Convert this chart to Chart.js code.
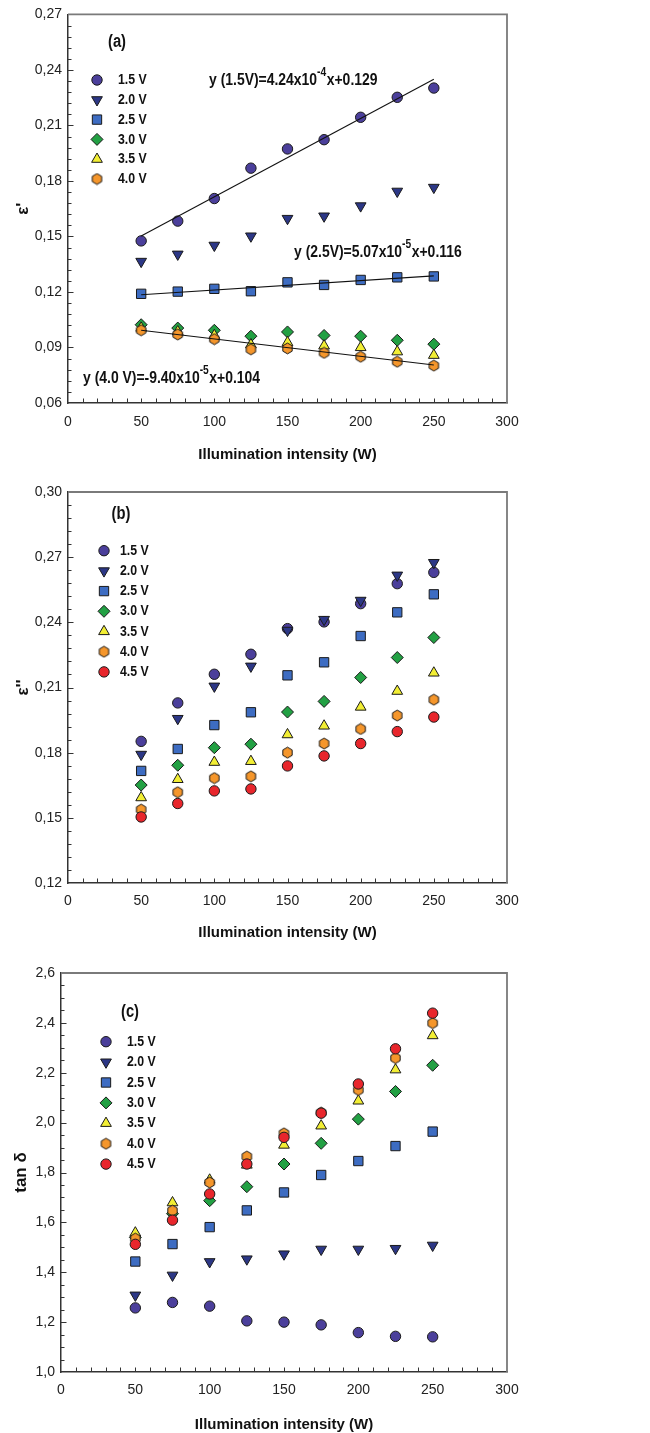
<!DOCTYPE html>
<html><head><meta charset="utf-8">
<script src="https://cdn.jsdelivr.net/npm/chart.js@4.4.1/dist/chart.umd.min.js"></script>
<style>
html,body{margin:0;padding:0;background:#fff;width:650px;height:1433px;overflow:hidden}
canvas{position:absolute;left:0;display:block}
</style></head><body>
<canvas id="ca" width="650" height="470" style="top:0px"></canvas>
<canvas id="cb" width="650" height="480" style="top:470px"></canvas>
<canvas id="cc" width="650" height="483" style="top:950px"></canvas>
<script>
// ---------- data ----------
const intensity = [50, 75, 100, 125, 150, 175, 200, 225, 250];
const xTicks = [0, 50, 100, 150, 200, 250, 300];

// (a) epsilon'
const epsR_15 = [0.1476, 0.1583, 0.1705, 0.1869, 0.1973, 0.2023, 0.2144, 0.2252, 0.2302];
const epsR_20 = [0.1365, 0.1404, 0.1452, 0.1502, 0.1597, 0.1610, 0.1665, 0.1744, 0.1765];
const epsR_25 = [0.1190, 0.1202, 0.1217, 0.1204, 0.1252, 0.1238, 0.1265, 0.1279, 0.1284];
const epsR_30 = [0.1023, 0.1005, 0.0993, 0.0961, 0.0984, 0.0965, 0.0961, 0.0939, 0.0918];
const epsR_35 = [0.1005, 0.0985, 0.0965, 0.0915, 0.0927, 0.0909, 0.0900, 0.0877, 0.0858];
const epsR_40 = [0.0993, 0.0970, 0.0945, 0.0890, 0.0895, 0.0871, 0.0850, 0.0823, 0.0802];
const yTicksA = [0.06, 0.09, 0.12, 0.15, 0.18, 0.21, 0.24, 0.27];
// linear fits printed on panel (a): [slope, intercept]
const fit_15 = [4.24e-4, 0.129];
const fit_25 = [5.07e-5, 0.116];
const fit_40 = [-9.40e-5, 0.104];
const fitRange = [50, 250];

// (b) epsilon''
const epsI_15 = [0.1852, 0.2029, 0.2161, 0.2253, 0.2371, 0.2402, 0.2486, 0.2578, 0.2630];
const epsI_20 = [0.1792, 0.1957, 0.2106, 0.2198, 0.2363, 0.2413, 0.2501, 0.2617, 0.2675];
const epsI_25 = [0.1716, 0.1817, 0.1927, 0.1986, 0.2156, 0.2216, 0.2337, 0.2446, 0.2529];
const epsI_30 = [0.1651, 0.1742, 0.1823, 0.1839, 0.1987, 0.2036, 0.2146, 0.2238, 0.2330];
const epsI_35 = [0.1593, 0.1677, 0.1756, 0.1760, 0.1883, 0.1923, 0.2010, 0.2083, 0.2167];
const epsI_40 = [0.1538, 0.1618, 0.1683, 0.1691, 0.1800, 0.1842, 0.1909, 0.1971, 0.2044];
const epsI_45 = [0.1504, 0.1566, 0.1624, 0.1633, 0.1739, 0.1785, 0.1842, 0.1897, 0.1964];
const yTicksB = [0.12, 0.15, 0.18, 0.21, 0.24, 0.27, 0.30];

// (c) tan delta
const tan_15 = [1.257, 1.279, 1.264, 1.205, 1.200, 1.189, 1.158, 1.143, 1.141];
const tan_20 = [1.308, 1.388, 1.442, 1.453, 1.473, 1.492, 1.492, 1.495, 1.508];
const tan_25 = [1.443, 1.513, 1.581, 1.648, 1.720, 1.790, 1.846, 1.906, 1.964];
const tan_30 = [1.540, 1.635, 1.687, 1.743, 1.834, 1.917, 2.014, 2.125, 2.230];
const tan_35 = [1.558, 1.679, 1.770, 1.830, 1.910, 1.987, 2.087, 2.212, 2.349];
const tan_40 = [1.535, 1.647, 1.760, 1.864, 1.957, 2.040, 2.131, 2.259, 2.399];
const tan_45 = [1.512, 1.609, 1.714, 1.834, 1.941, 2.038, 2.155, 2.296, 2.439];
const yTicksC = [1.0, 1.2, 1.4, 1.6, 1.8, 2.0, 2.2, 2.4, 2.6];

// ---------- fonts ----------
function hasFont(name) {
  const c = document.createElement('canvas').getContext('2d');
  const t = 'Illumination intensity 0123456789';
  let diff = false;
  for (const fb of ['monospace', 'serif']) {
    c.font = '20px ' + fb; const a = c.measureText(t).width;
    c.font = '20px "' + name + '", ' + fb; const b = c.measureText(t).width;
    if (a !== b) diff = true;
  }
  return diff;
}
const NARROW = hasFont('Liberation Sans Narrow');
const FF = NARROW ? '"Liberation Sans Narrow", "Liberation Sans", Arial, sans-serif' : '"Liberation Sans", Arial, sans-serif';
const SX = NARROW ? 1 : 0.82;          // horizontal squeeze for hand-drawn text
const K = NARROW ? 1 : 0.86;           // size factor for library-drawn text
const fs = n => Math.round(n * K * 10) / 10;
Chart.defaults.font.family = FF;

// draws condensed text, returns its width
function nText(ctx, text, x, y, size, align) {
  ctx.font = 'bold ' + size + 'px ' + FF;
  const w = ctx.measureText(text).width * SX;
  let x0 = x;
  if (align === 'center') x0 = x - w / 2;
  ctx.save();
  ctx.translate(x0, y); ctx.scale(SX, 1);
  ctx.textAlign = 'left'; ctx.textBaseline = 'middle';
  ctx.fillText(text, 0, 0);
  ctx.restore();
  return w;
}

// ---------- marker styles ----------
function hexagon(fill) {
  const c = document.createElement('canvas');
  c.width = 13; c.height = 13;
  const g = c.getContext('2d');
  g.beginPath();
  for (let k = 0; k < 6; k++) {
    const a = Math.PI / 2 + k * Math.PI / 3;
    const px = 6.5 + 5.4 * Math.cos(a), py = 6.5 + 5.4 * Math.sin(a);
    k ? g.lineTo(px, py) : g.moveTo(px, py);
  }
  g.closePath();
  g.fillStyle = fill; g.fill();
  g.strokeStyle = '#1a1a1a'; g.lineWidth = 1; g.stroke();
  return c;
}
const STY = {
  '1.5 V': {color: '#4b3f9b', style: 'circle', r: 5.2, rot: 0},
  '2.0 V': {color: '#2c3786', style: 'triangle', r: 6.2, rot: 180},
  '2.5 V': {color: '#3d6cc2', style: 'rect', r: 6.6, rot: 0},
  '3.0 V': {color: '#22a043', style: 'rectRot', r: 6.0, rot: 0},
  '3.5 V': {color: '#f2ee34', style: 'triangle', r: 6.2, rot: 0},
  '4.0 V': {color: '#f5962b', style: 'hex', r: 5.5, rot: 0},
  '4.5 V': {color: '#e8262c', style: 'circle', r: 5.2, rot: 0}
};
const HEX = hexagon(STY['4.0 V'].color);
function pstyle(name) { return STY[name].style === 'hex' ? HEX : STY[name].style; }

function markerDS(name, vals, i) {
  const s = STY[name];
  return {
    type: 'scatter', label: name,
    data: intensity.map((x, k) => ({x, y: vals[k]})),
    pointStyle: pstyle(name), pointRadius: s.r, pointRotation: s.rot,
    backgroundColor: s.color, borderColor: '#1a1a1a', borderWidth: 1,
    order: 100 - i
  };
}
function fitDS(f) {
  return {
    type: 'line', label: 'fit',
    data: fitRange.map(x => ({x, y: f[0] * x + f[1]})),
    borderColor: '#111', borderWidth: 1.1, pointRadius: 0, fill: false, order: 0
  };
}

function drawMarker(ctx, name, x, y) {
  const s = STY[name];
  ctx.save();
  ctx.fillStyle = s.color; ctx.strokeStyle = '#1a1a1a'; ctx.lineWidth = 1;
  if (s.style === 'hex') { ctx.drawImage(HEX, x - 6.5, y - 6.5); ctx.restore(); return; }
  if (Chart.helpers && Chart.helpers.drawPoint) {
    Chart.helpers.drawPoint(ctx, {pointStyle: s.style, radius: s.r, rotation: s.rot, borderWidth: 1}, x, y);
  } else {
    ctx.beginPath(); ctx.arc(x, y, s.r, 0, Math.PI * 2); ctx.fill(); ctx.stroke();
  }
  ctx.restore();
}

// ---------- decoration plugin ----------
const decor = {
  id: 'decor',
  beforeDatasetsDraw(chart, args, o) {
    const ctx = chart.ctx, ca = chart.chartArea, xs = chart.scales.x, ys = chart.scales.y;
    ctx.save();
    ctx.strokeStyle = '#7a7a7a'; ctx.lineWidth = 1.8;
    ctx.beginPath(); ctx.moveTo(ca.left, ca.top); ctx.lineTo(ca.right, ca.top); ctx.lineTo(ca.right, ca.bottom); ctx.stroke();
    ctx.strokeStyle = '#333'; ctx.lineWidth = 1;
    ctx.beginPath();
    const nx = Math.round((xs.max - xs.min) / o.xMinor);
    for (let k = 1; k < nx; k++) {
      const px = Math.round(xs.getPixelForValue(xs.min + k * o.xMinor)) + 0.5;
      ctx.moveTo(px, ca.bottom); ctx.lineTo(px, ca.bottom - 4.5);
    }
    const ny = Math.round((ys.max - ys.min) / o.yMinor);
    for (let k = 1; k < ny; k++) {
      const py = Math.round(ys.getPixelForValue(ys.min + k * o.yMinor)) + 0.5;
      const major = k % o.yPer === 0;
      ctx.moveTo(ca.left, py); ctx.lineTo(ca.left + (major ? 5.5 : 3.5), py);
    }
    ctx.stroke();
    ctx.restore();
  },
  afterDatasetsDraw(chart, args, o) {
    const ctx = chart.ctx;
    ctx.save();
    ctx.fillStyle = '#111';
    nText(ctx, o.letter.text, o.letter.x, o.letter.y, 18, 'center');
    o.legend.items.forEach((name, i) => {
      const y = o.legend.y + i * o.legend.dy;
      drawMarker(ctx, name, o.legend.mx, y);
      ctx.fillStyle = '#111';
      nText(ctx, name, o.legend.tx, y, 15, 'left');
    });
    (o.eqs || []).forEach(eq => {
      let x = eq.x;
      eq.parts.forEach(([t, sup]) => {
        x += nText(ctx, t, x, eq.y - (sup ? 7 : 0), sup ? 12.5 : 17, 'left') + (sup ? 0.5 : 0);
      });
    });
    ctx.restore();
  }
};

function makeChart(id, P) {
  return new Chart(document.getElementById(id), {
    data: {datasets: P.datasets},
    plugins: [decor],
    options: {
      responsive: false, animation: false, events: [],
      layout: {padding: {top: P.top, right: P.right, left: 0, bottom: 0}},
      plugins: {legend: {display: false}, tooltip: {enabled: false}, decor: P.decor},
      scales: {
        x: {
          type: 'linear', min: 0, max: 300,
          afterBuildTicks: s => { s.ticks = xTicks.map(v => ({value: v})); },
          afterFit: s => { s.height = P.xH; },
          ticks: {padding: P.xTickPad, color: '#222', font: {size: fs(16.3)}, maxRotation: 0, autoSkip: false, callback: v => String(v)},
          grid: {display: true, drawOnChartArea: false, drawTicks: false},
          border: {display: true, color: '#333', width: 1.5},
          title: {display: true, text: 'Illumination intensity (W)', color: '#111',
                  font: {size: fs(17.4), weight: 'bold', lineHeight: 1}, padding: {top: 0, bottom: P.xTitlePad}}
        },
        y: {
          type: 'linear', min: P.yTicks[0], max: P.yTicks[P.yTicks.length - 1],
          afterBuildTicks: s => { s.ticks = P.yTicks.map(v => ({value: v})); },
          afterFit: s => { s.width = P.yW; },
          ticks: {padding: 6, color: '#222', font: {size: fs(16.3)}, autoSkip: false, callback: v => v.toFixed(P.dec).replace('.', ',')},
          grid: {display: true, drawOnChartArea: false, drawTicks: false},
          border: {display: true, color: '#333', width: 1.5},
          title: {display: true, text: P.yTitle, color: '#111',
                  font: {size: 17, weight: 'bold', lineHeight: 1}, padding: {top: P.yTitlePad, bottom: 0}}
        }
      }
    }
  });
}

// ---------- panel (a) ----------
const namesA = ['1.5 V', '2.0 V', '2.5 V', '3.0 V', '3.5 V', '4.0 V'];
const valsA = [epsR_15, epsR_20, epsR_25, epsR_30, epsR_35, epsR_40];
makeChart('ca', {
  datasets: namesA.map((n, i) => markerDS(n, valsA[i], i)).concat([fitDS(fit_15), fitDS(fit_25), fitDS(fit_40)]),
  yTicks: yTicksA, dec: 2, yTitle: "ε'",
  top: 12, right: 143, yW: 68, xH: 67, xTickPad: 11, xTitlePad: 7.5, yTitlePad: 15,
  decor: {
    xMinor: 10, yMinor: 0.006, yPer: 5,
    letter: {text: '(a)', x: 117, y: 42},
    legend: {items: namesA, mx: 97, tx: 118, y: 80, dy: 19.8},
    eqs: [
      {x: 209, y: 80, parts: [['y (1.5V)=4.24x10', 0], ['-4', 1], ['x+0.129', 0]]},
      {x: 294, y: 252, parts: [['y (2.5V)=5.07x10', 0], ['-5', 1], ['x+0.116', 0]]},
      {x: 83, y: 378, parts: [['y (4.0 V)=-9.40x10', 0], ['-5', 1], ['x+0.104', 0]]}
    ]
  }
});

// ---------- panel (b) ----------
const namesB = ['1.5 V', '2.0 V', '2.5 V', '3.0 V', '3.5 V', '4.0 V', '4.5 V'];
const valsB = [epsI_15, epsI_20, epsI_25, epsI_30, epsI_35, epsI_40, epsI_45];
makeChart('cb', {
  datasets: namesB.map((n, i) => markerDS(n, valsB[i], i)),
  yTicks: yTicksB, dec: 2, yTitle: "ε''",
  top: 22, right: 143, yW: 68, xH: 67, xTickPad: 10, xTitlePad: 9.5, yTitlePad: 15,
  decor: {
    xMinor: 10, yMinor: 0.006, yPer: 5,
    letter: {text: '(b)', x: 121, y: 44},
    legend: {items: namesB, mx: 104, tx: 120, y: 80.7, dy: 20.2}
  }
});

// ---------- panel (c) ----------
const valsC = [tan_15, tan_20, tan_25, tan_30, tan_35, tan_40, tan_45];
makeChart('cc', {
  datasets: namesB.map((n, i) => markerDS(n, valsC[i], i)),
  yTicks: yTicksC, dec: 1, yTitle: 'tan δ',
  top: 23, right: 143, yW: 61, xH: 61, xTickPad: 10, xTitlePad: 0.5, yTitlePad: 13,
  decor: {
    xMinor: 10, yMinor: 0.05, yPer: 4,
    letter: {text: '(c)', x: 130, y: 62},
    legend: {items: namesB, mx: 106, tx: 127, y: 91.7, dy: 20.4}
  }
});
</script></body></html>
